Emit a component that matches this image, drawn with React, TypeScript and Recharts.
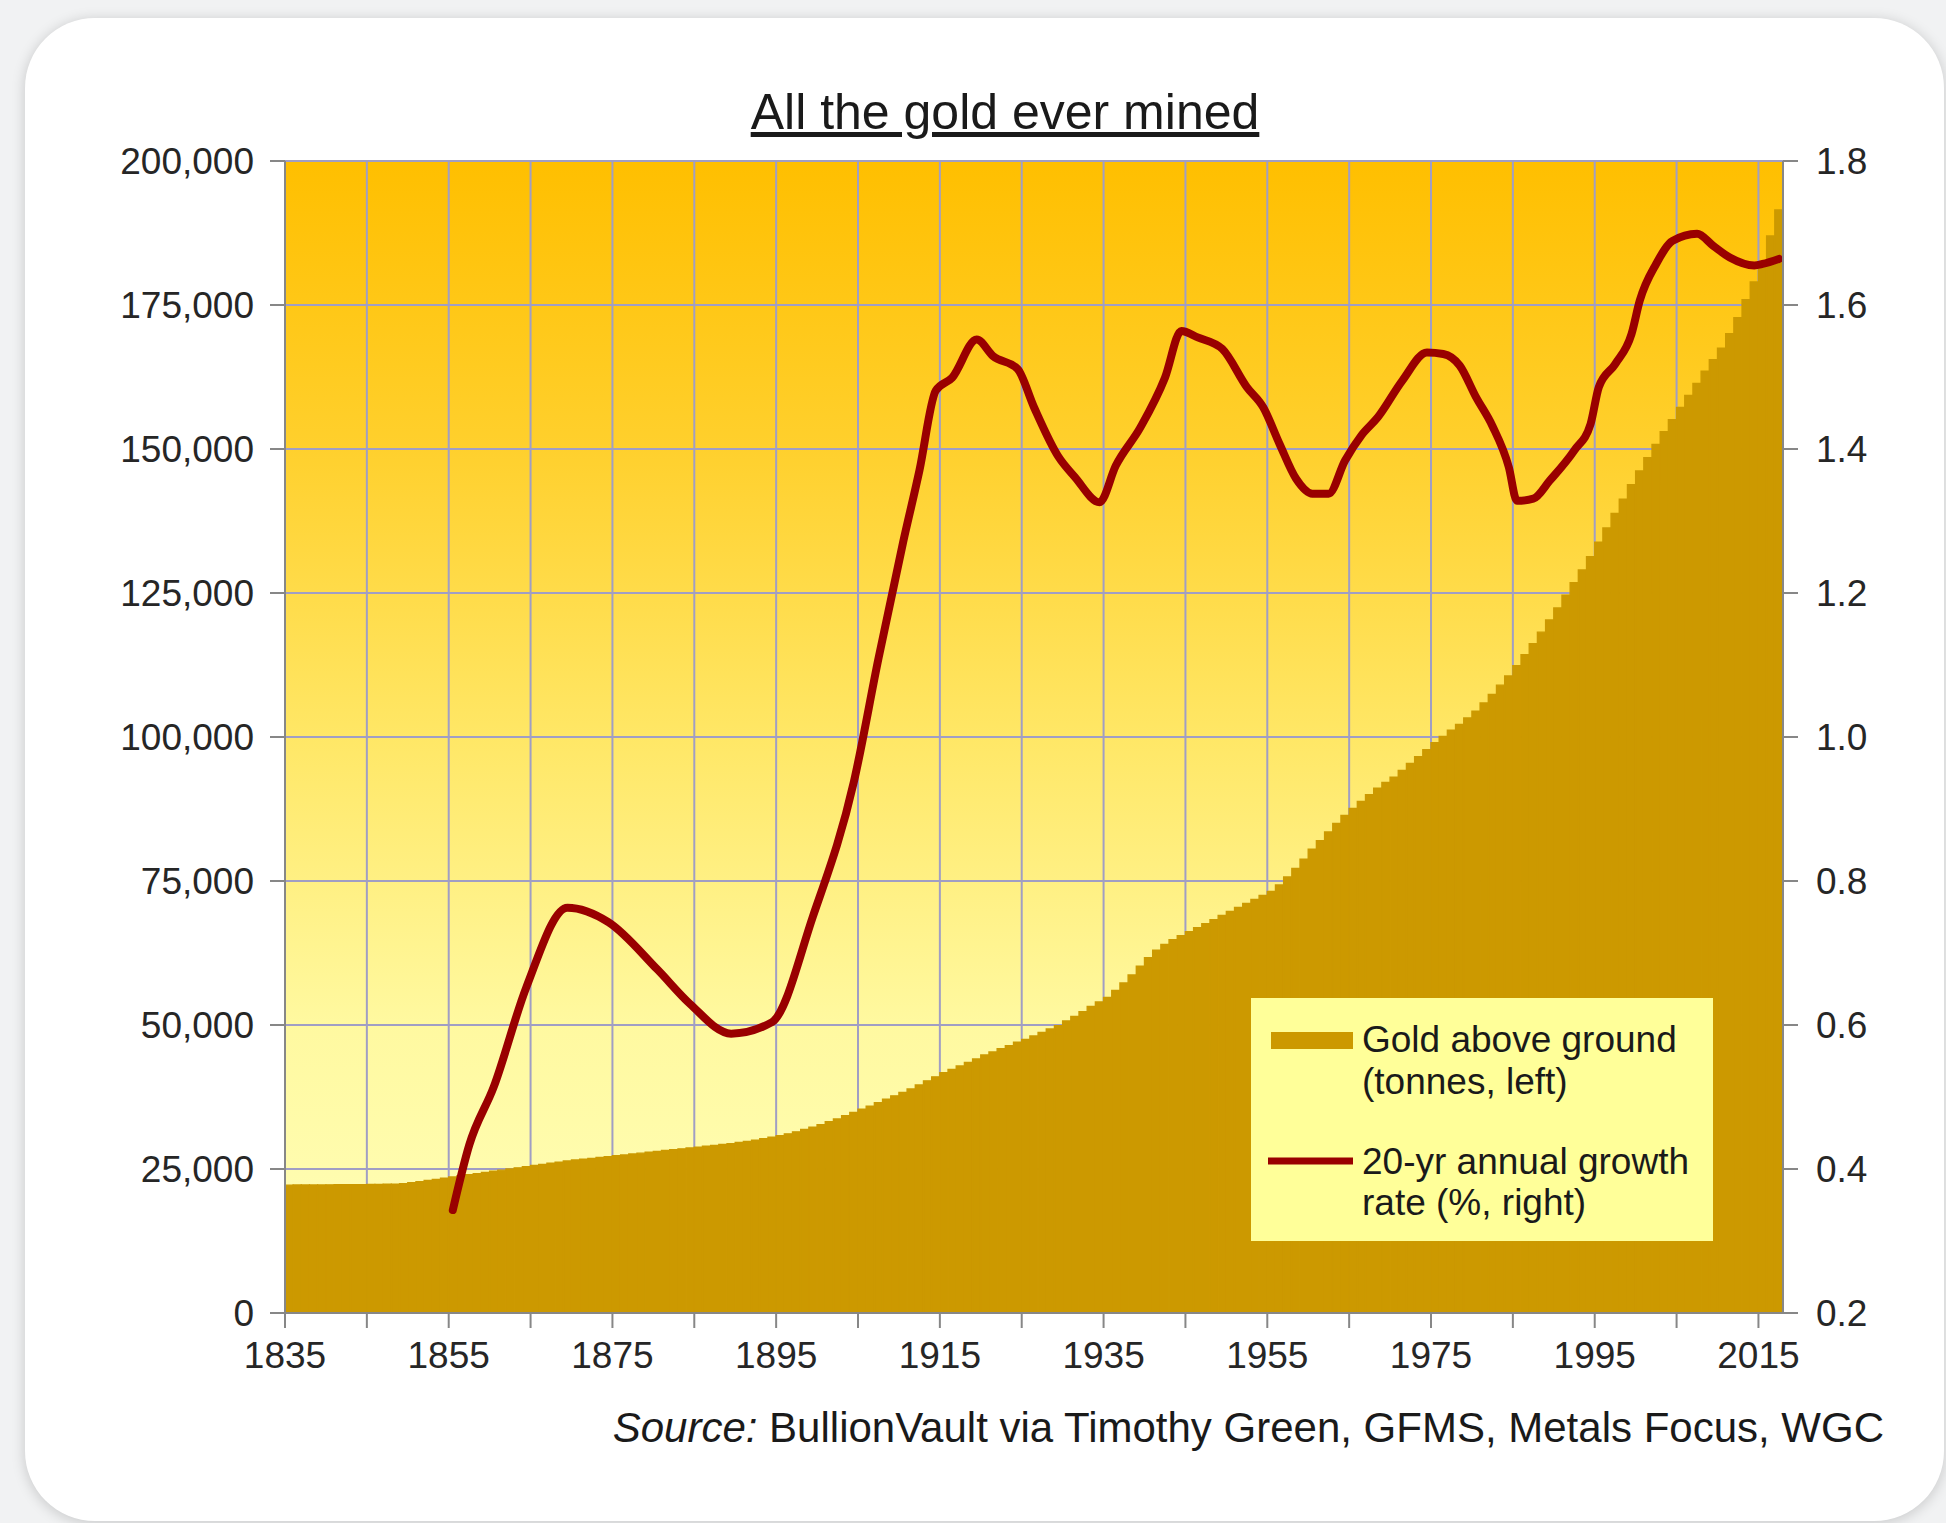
import React from "react";
import { ComposedChart, Bar, Line, XAxis, YAxis, CartesianGrid, Legend } from "recharts";

const FONT = "'Liberation Sans', Arial, sans-serif";

// gold above ground, tonnes, one bar per year from 1835 to 2017
const firstYear = 1835;
const goldTonnes = [
  22200, 22210, 22220, 22230, 22240, 22250, 22260, 22270, 22280, 22290,
  22300, 22320, 22340, 22380, 22450, 22600, 22800, 23000, 23200, 23400,
  23600, 23800, 24000, 24200, 24400, 24600, 24800, 25000, 25200, 25400,
  25600, 25800, 26000, 26200, 26400, 26550, 26700, 26850, 27000, 27150,
  27300, 27450, 27600, 27750, 27900, 28050, 28200, 28350, 28500, 28650,
  28800, 28950, 29100, 29250, 29400, 29600, 29800, 30000, 30250, 30500,
  30800, 31100, 31450, 31850, 32250, 32700, 33200, 33700, 34250, 34800,
  35400, 35900, 36500, 37100, 37700, 38300, 38900, 39600, 40300, 41000,
  41700, 42300, 42900, 43500, 44100, 44800, 45300, 45900, 46400, 47000,
  47500, 48100, 48700, 49300, 49900, 50700, 51500, 52300, 53200, 54000,
  54800, 56000, 57300, 58700, 60200, 61700, 63000, 64000, 64800, 65500,
  66200, 66900, 67600, 68300, 69000, 69700, 70400, 71100, 71800, 72500,
  73200, 74300, 75700, 77200, 78800, 80500, 82000, 83500, 85000, 86400,
  87600, 88800, 90000, 91100, 92100, 93000, 94200, 95400, 96600, 97800,
  99000, 100100, 101200, 102200, 103300, 104500, 105900, 107400, 109000, 110600,
  112400, 114300, 116200, 118200, 120300, 122400, 124600, 126800, 129000, 131300,
  133800, 136300, 138800, 141300, 143800, 146200, 148500, 150800, 153000, 155100,
  157200, 159300, 161400, 163500, 165500, 167500, 170000, 172800, 175900, 179000,
  182500, 187000, 191500,
];
const years = goldTonnes.map((_, i) => firstYear + i);

// 20-yr annual growth rate (%)
const growthYears = [
  1855, 1857, 1860, 1864, 1869, 1874, 1880, 1884, 1889, 1894, 1899, 1904, 1907, 1910,
  1912, 1914, 1916, 1919, 1921, 1924, 1926, 1929, 1931, 1934, 1936, 1939, 1942, 1944,
  1946, 1949, 1952, 1954, 1956, 1958, 1960, 1962, 1964, 1966, 1968, 1971, 1974, 1976,
  1978, 1980, 1982, 1984, 1985, 1987, 1989, 1992, 1994, 1995, 1997, 1999, 2000, 2002,
  2004, 2007, 2009, 2011, 2014, 2015, 2017,
];
const growthRate = [
  0.343, 0.433, 0.514, 0.653, 0.763, 0.743, 0.677, 0.629, 0.588, 0.604, 0.751, 0.938, 1.109, 1.27,
  1.37, 1.481, 1.499, 1.552, 1.529, 1.511, 1.458, 1.389, 1.361, 1.326, 1.377, 1.43, 1.499, 1.564,
  1.555, 1.539, 1.486, 1.458, 1.407, 1.359, 1.338, 1.338, 1.384, 1.419, 1.444, 1.495, 1.534, 1.532,
  1.516, 1.472, 1.432, 1.375, 1.328, 1.331, 1.356, 1.398, 1.435, 1.486, 1.518, 1.56, 1.606, 1.657,
  1.689, 1.699, 1.682, 1.666, 1.655, 1.657, 1.664,
];

const leftTicks = [0, 25000, 50000, 75000, 100000, 125000, 150000, 175000, 200000];
const rightTicks = [0.2, 0.4, 0.6, 0.8, 1.0, 1.2, 1.4, 1.6, 1.8];
const yearTicks = [1835, 1845, 1855, 1865, 1875, 1885, 1895, 1905, 1915, 1925, 1935, 1945, 1955, 1965, 1975, 1985, 1995, 2005, 2015];
const yearLabels = [1835, 1855, 1875, 1895, 1915, 1935, 1955, 1975, 1995, 2015];

const rateByYear = new Map(growthYears.map((y, i) => [y, growthRate[i]]));
const data = years.map((year, i) => ({
  year,
  gold: goldTonnes[i],
  growth: rateByYear.has(year) ? rateByYear.get(year) : null,
}));

const tickStyle = { fill: "#262626", fontSize: 37, fontFamily: FONT };

function GoldLegend() {
  return (
    <svg width={462} height={243} style={{ display: "block" }}>
      <rect x={0} y={0} width={462} height={243} fill="#ffff99" />
      <rect x={20} y={34} width={82} height={17} fill="#cc9900" />
      <text x={111} y={54} fontSize={37} fontFamily={FONT} fill="#1a1a1a">Gold above ground</text>
      <text x={111} y={96} fontSize={37} fontFamily={FONT} fill="#1a1a1a">(tonnes, left)</text>
      <line x1={17} x2={102} y1={163} y2={163} stroke="#990000" strokeWidth={7} />
      <text x={111} y={176} fontSize={37} fontFamily={FONT} fill="#1a1a1a">20-yr annual growth</text>
      <text x={111} y={217} fontSize={37} fontFamily={FONT} fill="#1a1a1a">rate (%, right)</text>
    </svg>
  );
}

export default function App() {
  return (
    <div style={{ position: "absolute", left: 0, top: 0, width: 1946, height: 1523, overflow: "hidden", background: "#f1f2f3" }}>
      <div
        style={{
          position: "absolute",
          left: 25,
          top: 18,
          width: 1919,
          height: 1503,
          background: "#ffffff",
          borderRadius: 70,
          boxShadow: "0 2px 14px rgba(0,0,0,0.18)",
        }}
      />
      <div style={{ position: "absolute", left: 0, top: 0 }}>
        <ComposedChart
          width={1946}
          height={1523}
          data={data}
          margin={{ top: 161, right: 0, bottom: 150, left: 0 }}
          barCategoryGap={0}
          barGap={0}
        >
          <defs>
            <linearGradient id="plotBg" x1="0" y1="0" x2="0" y2="1">
              <stop offset="0%" stopColor="#ffbf00" />
              <stop offset="25%" stopColor="#ffd02d" />
              <stop offset="50%" stopColor="#ffe766" />
              <stop offset="75%" stopColor="#fff9a0" />
              <stop offset="100%" stopColor="#ffffbb" />
            </linearGradient>
          </defs>
          <CartesianGrid xAxisId="num" yAxisId="left" fill="url(#plotBg)" fillOpacity={1} stroke="#a09ec4" strokeWidth={2} />
          <XAxis xAxisId="cat" dataKey="year" orientation="top" height={0} hide />
          <XAxis
            xAxisId="num"
            dataKey="year"
            type="number"
            domain={[1835, 2018]}
            ticks={yearTicks}
            interval={0}
            tickFormatter={(v: number) => (yearLabels.includes(v) ? String(v) : "")}
            tickSize={15}
            tickMargin={14}
            height={60}
            stroke="#878787"
            strokeWidth={2}
            tick={tickStyle}
          />
          <YAxis
            yAxisId="left"
            domain={[0, 200000]}
            ticks={leftTicks}
            interval={0}
            tickFormatter={(v: number) => v.toLocaleString("en-US")}
            width={285}
            tickSize={15}
            tickMargin={16}
            stroke="#878787"
            strokeWidth={2}
            tick={tickStyle}
          />
          <YAxis
            yAxisId="right"
            orientation="right"
            domain={[0.2, 1.8]}
            ticks={rightTicks}
            interval={0}
            tickFormatter={(v: number) => v.toFixed(1)}
            width={163}
            tickSize={15}
            tickMargin={18}
            stroke="#878787"
            strokeWidth={2}
            tick={tickStyle}
          />
          <Bar
            xAxisId="cat"
            yAxisId="left"
            dataKey="gold"
            name="Gold above ground (tonnes, left)"
            fill="#cc9900"
            stroke="#cc9900"
            strokeWidth={1.4}
            isAnimationActive={false}
          />
          <Line
            xAxisId="cat"
            yAxisId="right"
            dataKey="growth"
            name="20-yr annual growth rate (%, right)"
            type="monotone"
            stroke="#990000"
            strokeWidth={8}
            strokeLinejoin="round"
            strokeLinecap="round"
            dot={false}
            activeDot={false}
            connectNulls
            isAnimationActive={false}
          />
          <Legend
            layout="vertical"
            align="center"
            verticalAlign="middle"
            content={() => <GoldLegend />}
            wrapperStyle={{ left: 1251, top: 998, width: 462, height: 243, right: "auto", bottom: "auto" }}
          />
        </ComposedChart>
      </div>
      <svg width={1946} height={1523} style={{ position: "absolute", left: 0, top: 0, pointerEvents: "none" }}>
        <text
          x={1005}
          y={129}
          textAnchor="middle"
          fontSize={50}
          fontFamily={FONT}
          fill="#1a1a1a"
          textDecoration="underline"
        >
          All the gold ever mined
        </text>
        <text x={1884} y={1442} textAnchor="end" fontSize={42} fontFamily={FONT} fill="#1a1a1a">
          <tspan fontStyle="italic">Source:</tspan> BullionVault via Timothy Green, GFMS, Metals Focus, WGC
        </text>
      </svg>
    </div>
  );
}
